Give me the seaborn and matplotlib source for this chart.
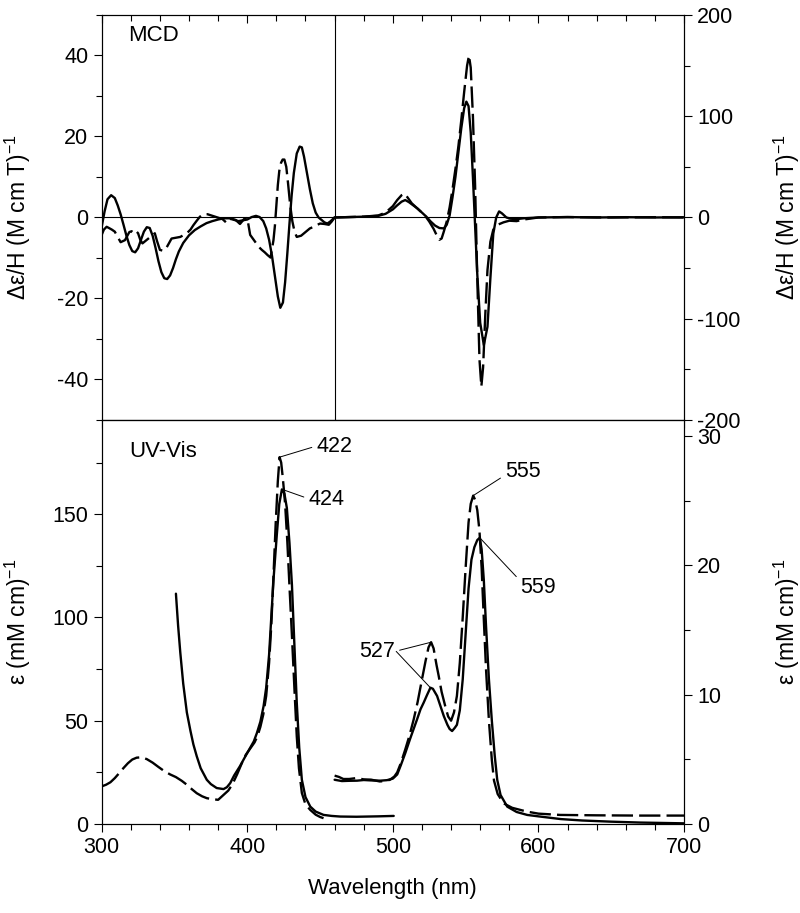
import matplotlib
matplotlib.use('Agg')
import matplotlib.pyplot as plt
import seaborn as sns
from matplotlib.ticker import MultipleLocator

# MCD, region 300-460 nm (left axis units)
mcd_sol_wl_a = [300, 302, 304, 306.5, 309, 311, 313, 315, 317, 319, 321, 323, 325, 327, 329, 331,
                333, 335, 337, 339, 341, 343, 345, 347, 349, 351, 353, 356, 360, 364, 368, 372,
                376, 380, 384, 388, 391, 394, 397, 400, 403, 406, 408.5, 411, 413, 415, 417, 419,
                421, 422.7, 424.5, 426, 427.5, 429, 430.5, 432, 434, 436, 437.5, 439, 441, 443,
                445, 447, 449, 451, 453, 455, 457, 460]
mcd_sol_a = [-2.3, 1.5, 4.5, 5.5, 4.8, 3, 0.8, -1.8, -4.5, -6.8, -8.3, -8.6, -7.6, -5.5, -3.5, -2.4,
             -2.6, -4.5, -7.5, -10.8, -13.5, -15, -15.2, -14.3, -12.5, -10.3, -8.4, -6.3, -4.4, -3.1, -2.2, -1.4,
             -0.9, -0.5, -0.2, -0.2, -0.6, -0.9, -0.7, -0.5, 0.1, 0.4, 0.1, -0.9, -2.7, -5.5, -9.5, -14.5,
             -19.5, -22.3, -21, -16, -9, -1.5, 5.5, 11, 15.8, 17.5, 17.3, 15, 11, 7,
             3.5, 1.2, 0, -0.6, -1.2, -1.5, -1.0, 0]
mcd_dash_wl_a = [300, 301.5, 303.4, 305, 307, 309, 311, 313, 316, 317.5, 319, 320.6, 322, 323.5, 325,
                 326.5, 328, 336.5, 338, 340, 342, 344, 346, 348, 354, 356, 358.5, 361, 363, 365.3,
                 367.5, 370, 372.7, 383, 386, 389, 392, 395, 398, 400, 402, 404, 406, 408, 410, 412,
                 414, 416, 418, 419, 420, 421, 422, 423.2, 424.3, 425.5, 426.8, 428, 429.5, 431,
                 432.5, 434, 437, 439, 441, 443, 445, 447, 450, 453, 456, 458, 460]
mcd_dash_a = [-4.3, -3.0, -2.3, -2.6, -3.0, -3.5, -4.8, -6.1, -5.6, -4.6, -3.6, -3.4, -3.8, -3.3, -3.9,
              -5.5, -6.4, -3.9, -5.8, -8.0, -8.2, -7.8, -6.5, -5.2, -4.8, -4.4, -3.9, -3, -1.9, -0.8,
              0.2, 0.8, 0.8, -0.4, -1.4, -0.3, -0.6, -1.6, -0.3, -0.1, -4.3, -5.3, -6.3, -7.3, -8.0, -8.6,
              -9.3, -9.9, -5.6, -2, 3, 8, 11.5, 13.5, 14.3, 14.3, 12.5, 8.5, 3, -1,
              -3.5, -4.8, -4.5, -3.9, -3.3, -2.7, -2.4, -2.0, -1.5, -1.6, -1.8, -1.0, 0]

# MCD, region 460-700 nm (right axis units)
mcd_sol_wl_b = [460, 470, 480, 490, 495, 500, 503, 506, 508.5, 511, 514, 517, 520, 523, 526, 529,
                532, 535, 537, 539, 541, 543, 545, 547, 549, 550.5, 552, 553.5, 555, 556.5, 558,
                560, 562.5, 565, 567, 569, 571, 573, 575, 578, 581, 585, 590, 600, 620, 640, 660,
                680, 700]
mcd_sol_b = [0, 0.4, 0.8, 1.6, 3.6, 8, 12, 15.6, 17.2, 15.2, 12, 8.8, 4.8, 0.8, -4, -8,
             -10.4, -10.8, -7.2, 2, 20, 40, 64, 88, 108, 114.4, 110, 84, 40, -8, -56,
             -104, -126, -108, -60, -16, 0, 6, 4, 0, -1.2, -1.6, -0.8, 0, 0.4, 0, 0.3,
             0, 0.2]
mcd_dash_wl_b = [460, 470, 480, 490, 495, 500, 503, 506, 508, 510, 513, 516, 519, 522, 525, 528,
                 530, 532, 533.5, 535, 537, 539, 541, 543, 545, 547, 549, 551, 552.3, 553.5, 555,
                 556.5, 558, 559.5, 560.8, 562, 563.5, 565, 567, 569, 572, 576, 580, 585, 590,
                 600, 620, 650, 680, 700]
mcd_dash_b = [0, 0.4, 0.8, 2, 4.8, 11.2, 17.2, 22, 23.6, 20, 14, 10, 6, 2, -4, -11.2,
              -17.2, -22, -20.8, -14, -4, 10, 28, 48, 70, 96, 124, 150, 160, 148, 100,
              32, -60, -140, -167, -148, -96, -52, -24, -12, -7.2, -4.8, -3.2, -3.6, -2,
              0, 0.4, 0, 0.3, 0]

# UV-Vis, left part (left axis, epsilon)
uv_sol_wl_a = [351, 352.5, 354, 356, 358.5, 361, 363, 365.3, 368, 372.2, 375, 379, 383.7, 386,
               388.3, 391, 395, 398.5, 402, 404.5, 406.6, 409, 411.2, 413, 415, 416.5, 418, 420.3,
               422, 423.8, 425.5, 427.2, 429, 430.7, 432.3, 434, 435.7, 437.5, 440, 443.3, 447,
               452.4, 458, 463.9, 475, 490, 500.6]
uv_sol_a = [111.5, 96, 83, 68, 54, 45, 38.5, 32.8, 27, 21.4, 19.3, 17.4, 16.9, 17.8,
            19.8, 23.5, 28, 32.5, 36.9, 40, 44, 49.5, 57, 66, 82, 100, 118, 140,
            155, 162, 160, 153, 136, 115.6, 88, 58.8, 37, 21.4, 13, 8.4, 6,
            4.4, 3.9, 3.6, 3.5, 3.7, 3.9]
uv_dash_wl_a = [300, 303, 306, 309, 312, 315, 318, 321, 324, 327.5, 331, 335, 339, 343, 347, 351,
                355, 358.5, 362, 365.3, 369, 372.2, 376, 380, 387, 390, 393, 396, 399, 402, 405,
                407, 409, 411, 413, 415, 416.5, 418, 419.5, 421, 422.2, 423.3, 424.5, 426, 427.5,
                429, 430.7, 432.5, 434, 435.5, 437.5, 440, 443.3, 447, 450, 452.4]
uv_dash_a = [18.2, 19.0, 20.2, 22.2, 24.6, 27.1, 29.4, 31.2, 32.1, 32.3, 31.4, 29.7, 27.6, 25.6, 24, 22.7,
             20.9, 19, 16.8, 14.9, 13.4, 12.5, 12, 11.7, 16.2, 19.5, 24, 29, 33.5, 36.5, 39.5,
             42.5, 47, 53, 62, 78, 96, 120, 145, 166, 177.6, 175, 167, 155, 137,
             115, 91, 64, 42.5, 27, 15, 9.5, 6.8, 4.5, 3.4, 2.8]

# UV-Vis, right part (right axis, epsilon)
uv_sol_wl_b = [460, 465, 470, 475.4, 480, 485, 491.4, 496, 500, 503, 505.5, 508.6, 512, 516.6, 519,
               521.2, 523.5, 525.8, 527.5, 530.4, 532.5, 535, 537.5, 539, 540.7, 542.5, 544, 546,
               548, 550, 552, 554, 556, 558, 559.7, 561, 562.5, 564, 566, 568, 570, 571.7, 574,
               578.6, 585, 592.3, 600, 615.3, 630, 649.7, 670, 700]
uv_sol_b = [3.42, 3.32, 3.34, 3.35, 3.4, 3.37, 3.35, 3.39, 3.51, 3.83, 4.55, 5.5, 6.63, 8.08, 8.87,
            9.39, 9.98, 10.54, 10.46, 9.9, 9.19, 8.35, 7.67, 7.35, 7.19, 7.43, 7.67, 8.79,
            11.18, 14.7, 18.21, 20.45, 21.41, 21.96, 22.14, 21.25, 18.85, 15.34, 11.18, 7.99, 5.27, 3.42, 2.24,
            1.34, 0.93, 0.7, 0.59, 0.38, 0.27, 0.18, 0.11, 0.05]
uv_dash_wl_b = [460, 463, 466, 470, 475, 480, 485, 491, 495, 498, 501, 503, 505.5, 508.5, 511.5,
                514.3, 517, 520, 522.5, 524.5, 526.3, 528, 530, 531.5, 533.5, 536, 538, 540, 542,
                544, 546, 548, 550, 552, 553.5, 555.2, 556.5, 558, 559.5, 561, 562.5, 564, 566,
                568, 569.5, 572, 576, 582, 592, 600, 615, 640, 670, 700]
uv_dash_b = [3.74, 3.64, 3.48, 3.48, 3.55, 3.45, 3.43, 3.29, 3.32, 3.42, 3.67, 3.99, 4.71, 5.75, 6.87,
             8.08, 9.42, 11.18, 12.62, 13.66, 14.06, 13.58, 12.3, 11.45, 10.22, 9.11, 8.31, 7.99, 8.63,
             9.9, 12.46, 15.97, 19.81, 23.32, 24.76, 25.4, 25.08, 24.28, 22.68, 19.81, 15.81, 11.98, 7.99,
             4.95, 3.35, 2.32, 1.6, 1.25, 0.96, 0.8, 0.7, 0.67, 0.65, 0.65]

sns.set_style('ticks')
plt.rcParams['font.family'] = ['Liberation Sans', 'DejaVu Sans']
plt.rcParams['mathtext.fontset'] = 'custom'
plt.rcParams['mathtext.rm'] = 'Liberation Sans'
plt.rcParams['mathtext.it'] = 'Liberation Sans:italic'
plt.rcParams['axes.unicode_minus'] = False
plt.rcParams['axes.linewidth'] = 0.8
plt.rcParams['axes.edgecolor'] = 'black'
plt.rcParams['text.color'] = 'black'
plt.rcParams['axes.labelcolor'] = 'black'
plt.rcParams['xtick.color'] = 'black'
plt.rcParams['ytick.color'] = 'black'

fs = 15.5
lw = 1.7
dash = (0, (9, 2.6))

fig = plt.figure(figsize=(8, 9.13), dpi=100)
ax1 = fig.add_axes([0.1271, 0.54, 0.7279, 0.4436])
ax2 = fig.add_axes([0.1271, 0.0975, 0.7279, 0.4425])
ax1r = ax1.twinx()
ax2r = ax2.twinx()

# top panel: MCD
ax1.axhline(0, color='black', lw=0.8)
ax1.axvline(460, color='black', lw=0.8)
sns.lineplot(x=mcd_sol_wl_a, y=mcd_sol_a, ax=ax1, color='black', lw=lw, sort=False, estimator=None)
sns.lineplot(x=mcd_dash_wl_a, y=mcd_dash_a, ax=ax1, color='black', lw=lw, linestyle=dash,
             sort=False, estimator=None)
sns.lineplot(x=mcd_sol_wl_b, y=mcd_sol_b, ax=ax1r, color='black', lw=lw, sort=False, estimator=None)
sns.lineplot(x=mcd_dash_wl_b, y=mcd_dash_b, ax=ax1r, color='black', lw=lw, linestyle=dash,
             sort=False, estimator=None)

# bottom panel: UV-Vis
sns.lineplot(x=uv_sol_wl_a, y=uv_sol_a, ax=ax2, color='black', lw=lw, sort=False, estimator=None)
sns.lineplot(x=uv_dash_wl_a, y=uv_dash_a, ax=ax2, color='black', lw=lw, linestyle=dash,
             sort=False, estimator=None)
sns.lineplot(x=uv_sol_wl_b, y=uv_sol_b, ax=ax2r, color='black', lw=lw, sort=False, estimator=None)
sns.lineplot(x=uv_dash_wl_b, y=uv_dash_b, ax=ax2r, color='black', lw=lw, linestyle=dash,
             sort=False, estimator=None)

for ax in (ax1, ax2, ax1r):
    ax.set_xlim(300, 700)
    ax.xaxis.set_major_locator(MultipleLocator(100))
    ax.xaxis.set_minor_locator(MultipleLocator(20))

ax1.set_ylim(-50, 50)
ax1r.set_ylim(-200, 200)
ax2.set_ylim(0, 195.6)
ax2r.set_ylim(0, 31.25)
ax1.yaxis.set_major_locator(MultipleLocator(20))
ax1.yaxis.set_minor_locator(MultipleLocator(10))
ax1r.yaxis.set_major_locator(MultipleLocator(100))
ax1r.yaxis.set_minor_locator(MultipleLocator(50))
ax2.yaxis.set_major_locator(MultipleLocator(50))
ax2.yaxis.set_minor_locator(MultipleLocator(25))
ax2r.yaxis.set_major_locator(MultipleLocator(10))
ax2r.yaxis.set_minor_locator(MultipleLocator(5))

for ax in (ax1, ax1r, ax2, ax2r):
    ax.tick_params(which='major', length=6, width=0.8, labelsize=fs, color='black')
    ax.tick_params(which='minor', length=4, width=0.8, color='black')
    ax.tick_params(axis='y', which='both', direction='out')

# top edge ticks point inward, the shared edge ticks point down
ax1.tick_params(axis='x', which='both', top=False, bottom=True, labelbottom=False, direction='out')
ax1r.xaxis.set_visible(True)
ax1r.tick_params(axis='x', which='both', top=True, bottom=False, labeltop=False, labelbottom=False,
                 direction='in')
ax2.tick_params(axis='x', which='both', top=False, bottom=True, direction='out')

ylab_top = 'Δε/H (M cm T)$^{-1}$'
ylab_bot = 'ε (mM cm)$^{-1}$'
ax1.set_ylabel(ylab_top, fontsize=16.5)
ax1r.set_ylabel(ylab_top, fontsize=16.5)
ax2.set_ylabel(ylab_bot, fontsize=16.5)
ax2r.set_ylabel(ylab_bot, fontsize=16.5)
ax1.yaxis.set_label_coords(-0.118, 0.5)
ax2.yaxis.set_label_coords(-0.118, 0.5)
ax1r.yaxis.set_label_coords(1.150, 0.5)
ax2r.yaxis.set_label_coords(1.150, 0.5)
ax2.set_xlabel('Wavelength (nm)', fontsize=16, labelpad=14)

ax1.text(0.045, 0.95, 'MCD', transform=ax1.transAxes, fontsize=16, va='center', ha='left')
ax2.text(0.047, 0.923, 'UV-Vis', transform=ax2.transAxes, fontsize=16, va='center', ha='left')

lead = dict(arrowstyle='-', color='black', lw=0.7, shrinkA=1, shrinkB=0)
ax2.annotate('422', xy=(422.2, 177.6), xytext=(447.5, 183), fontsize=fs, ha='left', va='center',
             arrowprops=dict(lead, relpos=(0, 0.5)))
ax2.annotate('424', xy=(424, 162), xytext=(442, 157), fontsize=fs, ha='left', va='center',
             arrowprops=dict(lead, relpos=(0, 0.55)))
ax2r.annotate('527', xy=(526.3, 14.06), xytext=(501.5, 13.35), fontsize=fs, ha='right', va='center',
              arrowprops=dict(lead, relpos=(1, 0.5)))
ax2r.annotate('', xy=(525.8, 10.54), xytext=(502.3, 13.35), arrowprops=dict(lead, shrinkA=0))
ax2r.annotate('555', xy=(555.2, 25.4), xytext=(577, 27.3), fontsize=fs, ha='left', va='center',
              arrowprops=dict(lead, relpos=(0, 0.3)))
ax2r.annotate('559', xy=(559.7, 22.14), xytext=(587.7, 18.3), fontsize=fs, ha='left', va='center',
              arrowprops=dict(lead, relpos=(0, 0.8)))

fig.savefig('out.png', dpi=100)
